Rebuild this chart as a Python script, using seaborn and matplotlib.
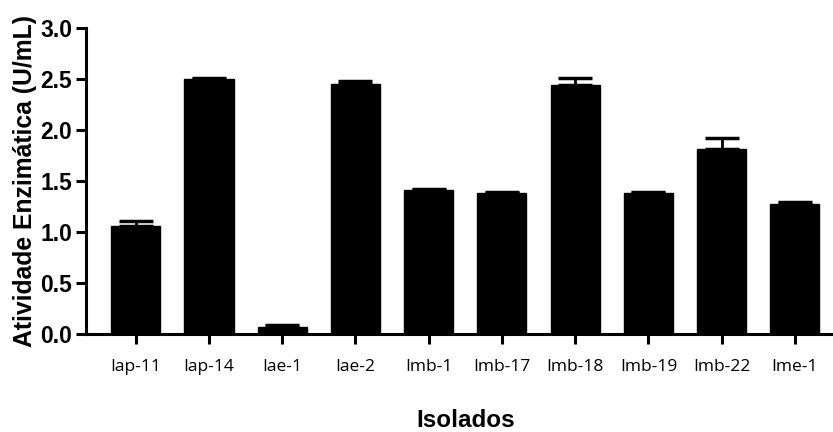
import matplotlib
matplotlib.use("Agg")
import matplotlib.pyplot as plt
import seaborn as sns
import numpy as np
import pandas as pd

categories = ["Iap-11", "Iap-14", "Iae-1", "Iae-2", "Imb-1", "Imb-17", "Imb-18", "Imb-19", "Imb-22", "Ime-1"]
means = [1.06, 2.50, 0.07, 2.45, 1.41, 1.38, 2.44, 1.38, 1.81, 1.27]
errors = [0.05, 0.01, 0.02, 0.03, 0.01, 0.01, 0.07, 0.01, 0.11, 0.02]
yticks = [0.0, 0.5, 1.0, 1.5, 2.0, 2.5, 3.0]

sns.set_style("ticks")
plt.rcParams['font.family'] = ['Liberation Sans', 'DejaVu Sans']
plt.rcParams['text.color'] = 'black'
plt.rcParams['axes.labelcolor'] = 'black'
plt.rcParams['xtick.color'] = 'black'
plt.rcParams['ytick.color'] = 'black'

df = pd.DataFrame({"Isolados": categories, "Atividade": means})

fig = plt.figure(figsize=(8.33, 4.32), dpi=100)
ax = fig.add_axes([0.1032, 0.2269, 0.8968, 0.7081])

sns.barplot(data=df, x="Isolados", y="Atividade", color="black", width=0.67,
            saturation=1, errorbar=None, ax=ax, zorder=2)
for p in ax.patches:
    p.set_edgecolor("black")

xpos = np.arange(len(categories))
ax.errorbar(xpos, means, yerr=[np.zeros(len(errors)), errors], fmt="none",
            ecolor="black", elinewidth=2, capsize=12, capthick=2.5, zorder=1)

ax.set_ylim(0, 3.0)
ax.set_xlim(-0.68, 9.52)
ax.set_yticks(yticks)
ax.set_yticklabels([f"{t:.1f}" for t in yticks], fontsize=16.5, fontweight="bold")
ax.set_xticks(xpos)
ax.set_xticklabels(categories, fontsize=12.5, fontweight="medium", family=["Open Sans", "DejaVu Sans"])

for s in ["top", "right"]:
    ax.spines[s].set_visible(False)
for s in ["left", "bottom"]:
    ax.spines[s].set_linewidth(2.2)
    ax.spines[s].set_color("black")
ax.tick_params(axis="y", direction="out", length=7, width=2.2, pad=3, colors="black")
ax.tick_params(axis="x", direction="out", length=7, width=2.2, pad=11, colors="black")

ax.set_ylabel("Atividade Enzimática (U/mL)", fontsize=17.8, fontweight="bold")
ax.yaxis.set_label_coords(-0.066, 0.5)
ax.set_xlabel("Isolados", fontsize=17.5, fontweight="bold")
ax.xaxis.set_label_coords(0.508, -0.245)

fig.savefig("out.png", dpi=100)
